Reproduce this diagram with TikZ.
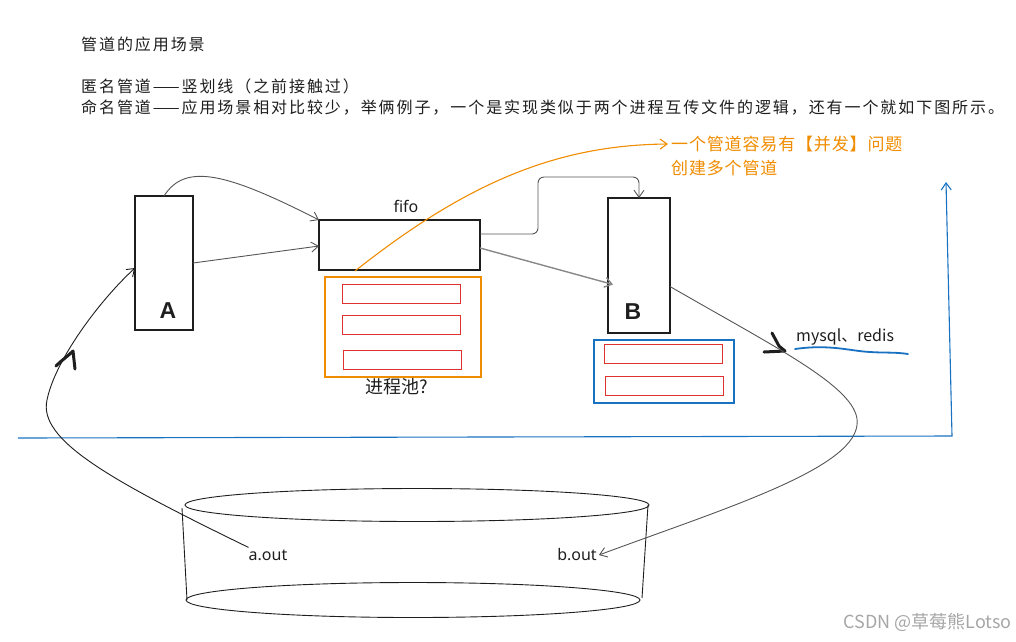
\documentclass[tikz,border=0pt]{standalone}
\usepackage{fontspec}
\setmainfont{Noto Sans CJK SC}
\newfontfamily\cjkbody[LetterSpace=12]{Noto Sans CJK SC}
\newfontfamily\cjkwarn[LetterSpace=5]{Noto Sans CJK SC}
\newfontfamily\latinf{Noto Sans}
\newfontfamily\handf{Liberation Sans}
\usetikzlibrary{arrows.meta,calc}
\definecolor{exorange}{HTML}{F08C00}
\definecolor{exred}{HTML}{E03131}
\definecolor{exblue}{HTML}{1971C2}
\definecolor{exgray}{HTML}{555555}
\definecolor{exdark}{HTML}{1E1E1E}
\tikzset{
  bodytext/.style={anchor=west, inner sep=0pt, font=\cjkbody\fontsize{16}{18}\selectfont, text=exdark},
  warntext/.style={anchor=west, inner sep=0pt, font=\cjkwarn\fontsize{17}{19}\selectfont, text=exorange},
  labeltext/.style={inner sep=0pt, font=\latinf\fontsize{16}{18}\selectfont, text=exdark},
  handlabel/.style={inner sep=0pt, font=\handf\bfseries\fontsize{23}{23}\selectfont, text=exdark},
  procbox/.style={draw=exdark, line width=1.2pt, inner sep=0pt, outer sep=0pt},
  slotbox/.style={draw=exred, line width=1pt, inner sep=0pt, outer sep=0pt, minimum width=118pt, minimum height=19pt},
  conn/.style={draw=exgray, line width=0.9pt, -{Straight Barb[length=7pt,width=10pt]}},
  handmark/.style={draw=exdark, line width=3pt, line cap=round, line join=round},
}
\begin{document}
\begin{tikzpicture}[x=1pt,y=-1pt]
\useasboundingbox (0,0) rectangle (1016,641);

% header text
\node[bodytext] (title) at (81,44) {管道的应用场景};
\node[bodytext] (anon) at (81,86) {匿名管道——竖划线（之前接触过）};
\node[bodytext] (named) at (81,108) {命名管道——应用场景相对比较少，举俩例子，一个是实现类似于两个进程互传文件的逻辑，还有一个就如下图所示。};

% orange note
\node[warntext] (warn) at (671,144) {一个管道容易有【并发】问题};
\node[warntext] (warn2) at (671,168) {创建多个管道};

% process A
\node[procbox, minimum width=58pt, minimum height=134pt] (A) at (164,263) {};
\node[handlabel] (Alabel) at (168,311) {A};

% fifo
\node[procbox, minimum width=161pt, minimum height=50pt] (fifo) at (399.5,245) {};
\node[labeltext] (fifolabel) at (406,206) {fifo};

% process pool
\node[draw=exorange, line width=1.2pt, inner sep=0pt, minimum width=156pt, minimum height=100pt] (pool) at (403,327) {};
\node[slotbox] (p1) at (401,293.5) {};
\node[slotbox] (p2) at (401,325) {};
\node[slotbox] (p3) at (402,360) {};
\node[inner sep=0pt, font=\fontsize{18}{20}\selectfont, text=exdark] (poollabel) at (397,387) {进程池?};

% process B
\node[procbox, minimum width=62pt, minimum height=135pt] (B) at (639,265.5) {};
\node[handlabel] (Blabel) at (633,312) {B};

% B pool
\node[draw=exblue, line width=1.2pt, inner sep=0pt, minimum width=140pt, minimum height=63pt] (bpool) at (664,371.5) {};
\node[slotbox] (q1) at (663,353.5) {};
\node[slotbox] (q2) at (664,385.5) {};

% mysql / redis
\node[inner sep=0pt, anchor=west, font=\fontsize{16}{18}\selectfont, text=exdark] (db) at (796,337) {mysql、redis};
\draw[exblue, line width=1.8pt, line cap=round] (795,349) .. controls (830,344) and (850,351) .. (870,352) .. controls (885,353) and (895,352) .. (908,354);
\draw[handmark] (772,333) -- (779,346) -- (785,351) -- (764,352);

% disk (cylinder)
\draw[exdark, line width=0.9pt] (417,505) ellipse [x radius=232, y radius=16.5];
\draw[exdark, line width=0.9pt] (413,600) ellipse [x radius=227, y radius=17.5];
\draw[exdark, line width=0.9pt] (182,508) -- (187,600);
\draw[exdark, line width=0.9pt] (648,505) -- (642,598);
\node[labeltext] (aout) at (268,555) {a.out};
\node[labeltext] (bout) at (577,555) {b.out};

% user/kernel boundary
\coordinate (bl1) at (18,438);
\coordinate (bl2) at (952,436);
\coordinate (bl3) at (946,182);
\draw[exblue, line width=1.1pt, -{Straight Barb[length=7pt,width=10pt]}] (bl1) -- (bl2) -- (bl3);

% connectors
\draw[conn] (A.north) .. controls (185,163) and (225,172) .. (fifo.north west);
\draw[conn] ([yshift=0pt]A.east) -- ([yshift=-1pt]fifo.west);
\draw[conn, rounded corners=6pt] ([yshift=11pt]fifo.east) -- ++(58,0) |- ([yshift=21pt]B.north) -- (B.north);
\draw[conn, line width=1.4pt, draw=exgray!70] ([yshift=-3pt]fifo.east) -- ([xshift=5pt,yshift=-19pt]B.west);
\draw[conn] ([yshift=-21pt]B.east) .. controls (780,350) and (862,390) .. (857,425) .. controls (852,470) and (720,510) .. ([xshift=2pt]bout.east);
\draw[conn, draw=exdark] ([yshift=2pt]aout.north west) .. controls (110,480) and (38,440) .. (47,400) .. controls (55,360) and (100,300) .. ([yshift=-5pt]A.west);
\draw[handmark] (56,366) .. controls (62,360) and (68,356) .. (73,351) -- (75,369);

% orange note arrow
\coordinate (noteStart) at (355,271);
\draw[draw=exorange, line width=1.1pt, -{Straight Barb[length=7pt,width=10pt]}] (noteStart) .. controls (470,180) and (560,145) .. ([xshift=-3pt]warn.west);

% watermark
\node[inner sep=0pt, anchor=east, font=\fontsize{18}{20}\selectfont, text=black!35] (wm) at (1012,622) {CSDN @草莓熊Lotso};
\end{tikzpicture}
\end{document}
